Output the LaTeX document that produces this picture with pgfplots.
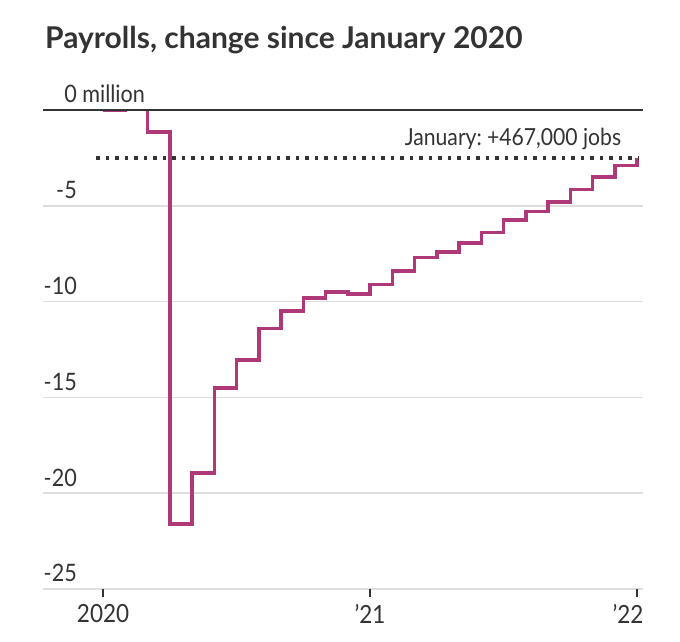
\documentclass[border=0pt]{standalone}
\usepackage{pgfplots}
\pgfplotsset{compat=1.18}
\usepackage{fontspec}
\setmainfont{Lato}[FakeStretch=0.9]
\newfontfamily\titlefont{Lato}

\definecolor{linepink}{RGB}{174,56,120}
\definecolor{ink}{RGB}{51,51,51}
\definecolor{gridgray}{RGB}{222,222,222}

\begin{document}
\begin{tikzpicture}[x=1pt,y=1pt]
\path (0,0) rectangle (680,642);
\node[anchor=base west, inner sep=0pt, text=ink,
      font=\titlefont\fontsize{30}{34}\selectfont\bfseries] at (45,593)
      {Payrolls, change since January 2020};
\begin{axis}[
    at={(43pt,53pt)}, anchor=south west,
    scale only axis, width=600pt, height=479pt,
    xmin=-2.7, xmax=24.27, ymin=-25, ymax=0,
    axis line style={draw=none},
    clip mode=individual,
    /pgf/number format/assume math mode=true,
    tick label style={text=ink, font=\fontsize{24}{28}\selectfont},
    xtick={0,12}, xticklabels={2020,’21},
    extra x ticks={24}, extra x tick labels={’22},
    extra x tick style={xticklabel style={xshift=-9pt},
        xtick style={draw=ink, line width=1.5pt}},
    xtick pos=bottom, tick align=outside, major tick length=8pt,
    xtick style={draw=ink, line width=1.5pt},
    xticklabel style={font=\fontsize{25}{29}\selectfont, yshift=-4pt},
    ytick={-25,-20,-15,-10,-5,0},
    yticklabels={-25,-20,-15,-10,-5,0\rlap{ million}},
    ytick style={draw=none},
    ymajorgrids, grid style={draw=gridgray, line width=1.5pt},
    yticklabel style={anchor=base east, xshift=42pt, yshift=7pt, inner sep=0pt},
]
% month index 0 = Jan 2020, 24 = Jan 2022; millions of jobs vs Jan 2020
\addplot[linepink, line width=3.5pt, const plot, no marks] coordinates {
    (0,0) (1,0.25) (2,-1.15) (3,-21.6) (4,-18.95) (5,-14.5) (6,-13.05)
    (7,-11.4) (8,-10.5) (9,-9.8) (10,-9.5) (11,-9.6) (12,-9.1)
    (13,-8.4) (14,-7.7) (15,-7.4) (16,-6.95) (17,-6.4) (18,-5.75)
    (19,-5.3) (20,-4.8) (21,-4.15) (22,-3.5) (23,-2.9) (24,-2.5)
};
\addplot[ink, line width=3.5pt, dash pattern=on 3.5pt off 6pt, no marks]
    coordinates {(-0.3,-2.5) (24.05,-2.5)};
\draw[ink, line width=2pt] (rel axis cs:0,1) -- (rel axis cs:1,1);
\node[anchor=base east, inner sep=0pt, text=ink,
      font=\fontsize{23.5}{27}\selectfont] at (axis cs:23.3,-1.83)
      {January:\kern-2pt{} +467,000 jobs};
\end{axis}
\end{tikzpicture}
\end{document}
